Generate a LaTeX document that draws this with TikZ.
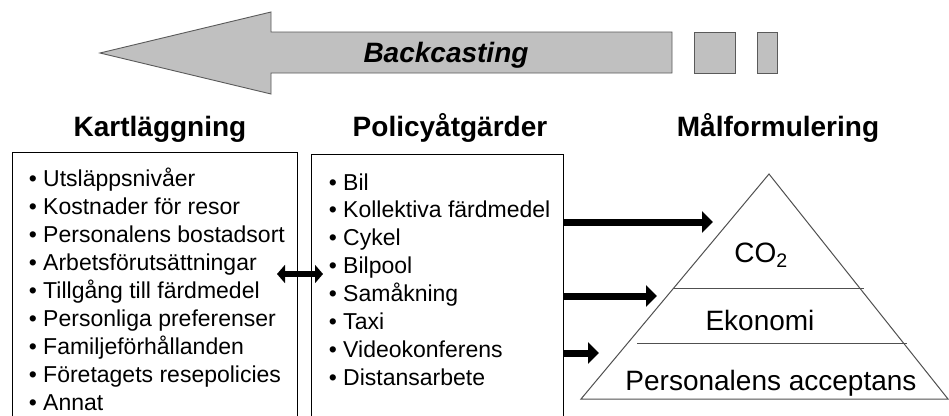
\documentclass[tikz,border=0pt]{standalone}
\usepackage{fontspec}
\setmainfont{Liberation Sans}
\usetikzlibrary{arrows.meta}
\definecolor{arrowfill}{HTML}{C0C0C0}
\definecolor{arrowline}{HTML}{5A5A5A}
\definecolor{divline}{HTML}{505050}
\begin{document}
\begin{tikzpicture}[x=1pt,y=-1pt,
  heading/.style={font=\fontsize{28}{32}\selectfont\bfseries, anchor=base, inner sep=0pt},
  item/.style={font=\fontsize{23}{27}\selectfont, anchor=base west, inner sep=0pt},
  pyrtext/.style={font=\fontsize{28}{32}\selectfont, anchor=base, inner sep=0pt},
  listbox/.style={draw=black, line width=1.2pt, anchor=north west, inner sep=0pt},
  graybox/.style={fill=arrowfill, draw=arrowline, line width=0.9pt},
  fatarrow/.style={line width=7pt, -{Triangle[length=11pt,width=21pt]}},
  dblarrow/.style={line width=5.5pt, {Triangle[length=8pt,width=18pt]}-{Triangle[length=8pt,width=18pt]}}
]
\useasboundingbox (0,0) rectangle (949,415);
\fill[white] (0,0) rectangle (949,415);

% Backcasting arrow
\draw[graybox] (100,53) -- (271,12) -- (271,32) -- (672,32) -- (672,73) -- (271,73) -- (271,94) -- cycle;
\draw[graybox] (694,32) rectangle (735,73);
\draw[graybox] (757,32) rectangle (777,73);
\node[font=\fontsize{28}{32}\selectfont\bfseries\itshape, anchor=base, inner sep=0pt] (back) at (446,62) {Backcasting};

% Headings
\node[heading] (h1) at (160,136) {Kartläggning};
\node[heading] (h2) at (450,136) {Policyåtgärder};
\node[heading] (h3) at (778,136) {Målformulering};

% Boxes
\node[listbox, minimum width=285pt, minimum height=280pt] (box1) at (12,152) {};
\node[listbox, minimum width=252pt, minimum height=280pt] (box2) at (311,154) {};

\foreach \t [count=\i from 0] in {Utsläppsnivåer, Kostnader för resor, Personalens bostadsort, Arbetsförutsättningar, Tillgång till färdmedel, Personliga preferenser, Familjeförhållanden, Företagets resepolicies, Annat}
  \node[item] (k\i) at (28.6,{186+28*\i}) {• \t};

\foreach \t [count=\i from 0] in {Bil, Kollektiva färdmedel, Cykel, Bilpool, Samåkning, Taxi, Videokonferens, Distansarbete}
  \node[item] (p\i) at (328.6,{190+27.9*\i}) {• \t};

% Pyramid
\coordinate (apex) at (769,174);
\coordinate (bl) at (581,399);
\coordinate (br) at (948,399);
\draw[divline, line width=1pt] (apex) -- (bl) -- (br) -- cycle;
\draw[divline, line width=1pt] (674,288) -- (864,288);
\draw[divline, line width=1pt] (637,343) -- (907,343);
\node[pyrtext] (co2) at (761,262) {CO\textsubscript{2}};
\node[pyrtext] (eko) at (760,330) {Ekonomi};
\node[pyrtext] (acc) at (771,390) {Personalens acceptans};

% Connectors
\coordinate (t1) at (713,222);
\coordinate (t2) at (657,296);
\coordinate (t3) at (599,353);
\draw[fatarrow] (box2.east |- t1) -- (t1);
\draw[fatarrow] (box2.east |- t2) -- (t2);
\draw[fatarrow] (box2.east |- t3) -- (t3);

\coordinate (dl) at (277,274);
\coordinate (dr) at (323,274);
\draw[dblarrow] (dl) -- (dr);
\end{tikzpicture}
\end{document}
